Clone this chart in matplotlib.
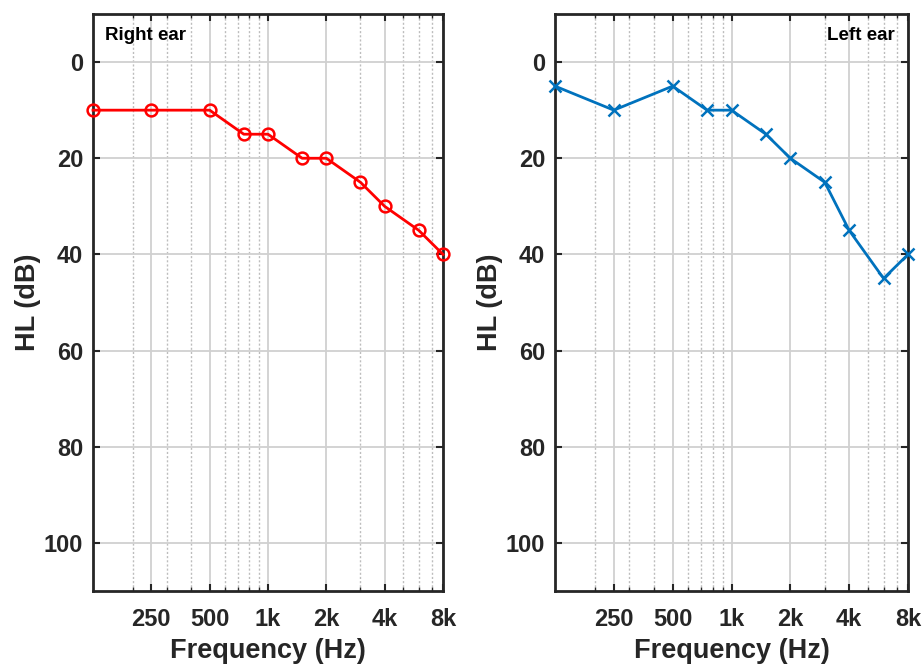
import matplotlib
matplotlib.use('Agg')
import matplotlib.pyplot as plt
from matplotlib.ticker import FixedLocator, NullFormatter
import numpy as np

plt.rcParams['font.family'] = ['Liberation Sans', 'DejaVu Sans']
plt.rcParams['font.weight'] = 'bold'

freqs = [125, 250, 500, 750, 1000, 1500, 2000, 3000, 4000, 6000, 8000]
right_hl = [10, 10, 10, 15, 15, 20, 20, 25, 30, 35, 40]
left_hl = [5, 10, 5, 10, 10, 15, 20, 25, 35, 45, 40]

xticks = [250, 500, 1000, 2000, 4000, 8000]
xticklabels = ['250', '500', '1k', '2k', '4k', '8k']
xminor = [200, 300, 400, 600, 700, 800, 900, 3000, 5000, 6000, 7000]
yticks = [0, 20, 40, 60, 80, 100]

dark = '#262626'

fig = plt.figure(figsize=(9.22, 6.68), dpi=100)
ax1 = fig.add_axes([93/922, 1-591/668, 350/922, 577/668])
ax2 = fig.add_axes([555/922, 1-591/668, 353/922, 577/668])


def setup(ax):
    ax.set_xscale('log')
    ax.set_xlim(125, 8000)
    ax.set_ylim(110, -10)
    ax.xaxis.set_major_locator(FixedLocator(xticks))
    ax.set_xticklabels(xticklabels)
    ax.xaxis.set_minor_locator(FixedLocator(xminor))
    ax.xaxis.set_minor_formatter(NullFormatter())
    ax.set_yticks(yticks)
    ax.tick_params(which='major', direction='in', length=5, width=1.5, top=True, right=True,
                   labelsize=17, colors=dark)
    ax.tick_params(axis='x', which='major', pad=12)
    ax.tick_params(axis='y', which='major', pad=7)
    ax.tick_params(which='minor', direction='in', length=3, width=1, top=True, right=True, colors=dark)
    ax.grid(which='major', color='#d0d0d0', linewidth=1.3, linestyle='-')
    ax.grid(which='minor', axis='x', color='#bdbdbd', linewidth=1.0, linestyle=(0, (1.5, 1.5)))
    ax.set_axisbelow(True)
    for s in ax.spines.values():
        s.set_linewidth(2)
        s.set_color(dark)
    ax.set_xlabel('Frequency (Hz)', fontsize=19.5, fontweight='bold', color=dark, labelpad=5)
    ax.set_ylabel('HL (dB)', fontsize=19.5, fontweight='bold', color=dark, labelpad=2)
    for lab in ax.get_xticklabels() + ax.get_yticklabels():
        lab.set_fontweight('bold')


setup(ax1)
setup(ax2)

ax1.plot(freqs, right_hl, color='#ff0000', linewidth=2.0, marker='o', markersize=8.5,
         markerfacecolor='none', markeredgewidth=1.8, clip_on=False, zorder=5)
ax2.plot(freqs, left_hl, color='#0072bd', linewidth=2.0, marker='x', markersize=8.5,
         markeredgewidth=1.8, clip_on=False, zorder=5)

ax1.text(0.034, 0.962, 'Right ear', transform=ax1.transAxes, fontsize=13.5,
         fontweight='bold', color='black', ha='left', va='center')
ax2.text(0.963, 0.962, 'Left ear', transform=ax2.transAxes, fontsize=13.5,
         fontweight='bold', color='black', ha='right', va='center')

fig.savefig('out.png', dpi=100)
